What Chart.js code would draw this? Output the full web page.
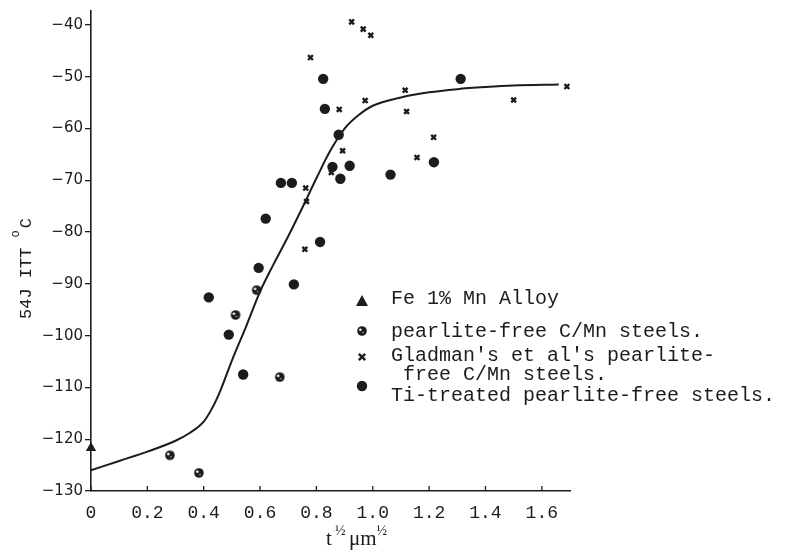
<!DOCTYPE html>
<html>
<head>
<meta charset="utf-8">
<script src="https://cdn.jsdelivr.net/npm/chart.js@4/dist/chart.umd.min.js"></script>
<style>
  body { margin: 0; background: #fff; }
  #chart { display: block; }
</style>
</head>
<body>
<canvas id="chart" width="785" height="551"></canvas>
<script>
// axis ticks
const xTicks = [0, 0.2, 0.4, 0.6, 0.8, 1.0, 1.2, 1.4, 1.6];
const xTickLabels = ['0', '0.2', '0.4', '0.6', '0.8', '1.0', '1.2', '1.4', '1.6'];
const yTicks = [-130, -120, -110, -100, -90, -80, -70, -60, -50, -40];
const yTickLabels = ['\u2212130', '\u2212120', '\u2212110', '\u2212100', '\u221290', '\u221280', '\u221270', '\u221260', '\u221250', '\u221240'];

// Fe 1% Mn alloy
const feX = [0];
const feY = [-121.7];

// pearlite-free C/Mn steels
const pearliteX = [0.28, 0.383, 0.513, 0.588, 0.67];
const pearliteY = [-123.1, -126.5, -96, -91.2, -108];

// Gladman et al
const gladmanX = [0.925, 0.966, 0.993, 0.779, 1.115, 0.973, 0.881, 1.12, 1.689, 1.5, 1.216, 0.893, 1.157, 0.853, 0.762, 0.765, 0.759];
const gladmanY = [-39.4, -40.8, -42, -46.3, -52.6, -54.6, -56.3, -56.7, -51.9, -54.5, -61.7, -64.3, -65.6, -68.5, -71.5, -74.1, -83.3];

// Ti-treated pearlite-free steels
const tiX = [0.824, 0.83, 0.879, 0.857, 0.885, 0.918, 0.674, 0.713, 0.62, 0.813, 0.595, 0.72, 0.418, 0.489, 0.54, 1.063, 1.217, 1.312];
const tiY = [-50.4, -56.2, -61.2, -67.4, -69.7, -67.2, -70.5, -70.5, -77.4, -81.9, -86.9, -90.1, -92.6, -99.8, -107.5, -68.9, -66.5, -50.4];

// fitted curve
const curveX = [0, 0.1, 0.2, 0.3, 0.35, 0.4, 0.43, 0.46, 0.5, 0.55, 0.6, 0.65, 0.7, 0.75, 0.8, 0.85, 0.9, 0.95, 1.0, 1.1, 1.2, 1.3, 1.4, 1.5, 1.66];
const curveY = [-126, -124.2, -122.4, -120.3, -118.8, -116.6, -114, -110.5, -104.8, -98.3, -91.5, -86, -80.8, -75.3, -69.6, -64.2, -60, -57.4, -55.6, -54, -53, -52.4, -52, -51.7, -51.5];

const legendLabels = [
    ['Fe 1% Mn Alloy'],
    ['pearlite-free C/Mn steels.'],
    ["Gladman's et al's pearlite-", ' free C/Mn steels.'],
    ['Ti-treated pearlite-free steels.']
];

const ink = '#1c1c1c';

function toPoints(xs, ys) {
    return xs.map((x, i) => ({ x: x, y: ys[i] }));
}

function makeDotted(r) {
    const c = document.createElement('canvas');
    const s = Math.ceil(r * 2 + 2);
    c.width = s;
    c.height = s;
    const g = c.getContext('2d');
    g.fillStyle = ink;
    g.beginPath();
    g.arc(s / 2, s / 2, r, 0, Math.PI * 2);
    g.fill();
    g.fillStyle = '#fff';
    g.beginPath();
    g.arc(s / 2 - 1.6, s / 2 - 1.3, 1.3, 0, Math.PI * 2);
    g.fill();
    g.beginPath();
    g.arc(s / 2 + 1, s / 2 + 1.6, 0.7, 0, Math.PI * 2);
    g.fill();
    return c;
}

const dotted = makeDotted(4.8);

// draws ticks inside on x, titles and the boxed-in legend
const extras = {
    id: 'extras',
    afterDraw(chart) {
        const ctx = chart.ctx;
        const xs = chart.scales.x;
        const area = chart.chartArea;
        ctx.save();
        ctx.strokeStyle = ink;
        ctx.fillStyle = ink;

        // x tick marks pointing up
        ctx.lineWidth = 1.3;
        xTicks.forEach(v => {
            const px = xs.getPixelForValue(v);
            ctx.beginPath();
            ctx.moveTo(px, area.bottom);
            ctx.lineTo(px, area.bottom - 5);
            ctx.stroke();
        });

        // x title: t^1/2 um^1/2
        ctx.textBaseline = 'alphabetic';
        ctx.textAlign = 'left';
        ctx.font = '21px "Liberation Serif"';
        ctx.fillText('t', 326, 545);
        ctx.font = '14px "Liberation Serif"';
        ctx.fillText('\u00bd', 335, 535);
        ctx.font = '21px "Liberation Serif"';
        ctx.fillText('\u03bcm', 349, 545);
        const mw = ctx.measureText('\u03bcm').width;
        ctx.font = '14px "Liberation Serif"';
        ctx.fillText('\u00bd', 349 + mw, 535);

        // y title
        ctx.save();
        ctx.translate(26, 319);
        ctx.rotate(-Math.PI / 2);
        ctx.textBaseline = 'middle';
        ctx.font = '17px "Liberation Mono"';
        ctx.fillText('54J ITT ', 0, 0);
        let w = ctx.measureText('54J ITT ').width;
        ctx.font = '12px "Liberation Mono"';
        ctx.fillText('o', w, -10);
        w += ctx.measureText('o').width + 2;
        ctx.font = '17px "Liberation Mono"';
        ctx.fillText('C', w, 0);
        ctx.restore();

        // legend
        const mx = 362;
        const markY = [301, 331, 357, 386];
        const textY = [[299], [332], [356, 375], [396]];
        // triangle
        ctx.beginPath();
        ctx.moveTo(mx, markY[0] - 6);
        ctx.lineTo(mx + 6, markY[0] + 5);
        ctx.lineTo(mx - 6, markY[0] + 5);
        ctx.closePath();
        ctx.fill();
        // dotted circle
        ctx.drawImage(dotted, mx - dotted.width / 2, markY[1] - dotted.height / 2);
        // cross
        ctx.lineWidth = 2.4;
        ctx.beginPath();
        ctx.moveTo(mx - 3.2, markY[2] - 3.2);
        ctx.lineTo(mx + 3.2, markY[2] + 3.2);
        ctx.moveTo(mx + 3.2, markY[2] - 3.2);
        ctx.lineTo(mx - 3.2, markY[2] + 3.2);
        ctx.stroke();
        // solid circle
        ctx.beginPath();
        ctx.arc(mx, markY[3], 5.2, 0, Math.PI * 2);
        ctx.fill();

        ctx.font = '20px "Liberation Mono"';
        ctx.textBaseline = 'middle';
        legendLabels.forEach((lines, i) => {
            lines.forEach((line, j) => {
                ctx.fillText(line, 391, textY[i][j]);
            });
        });
        ctx.restore();
    }
};

new Chart(document.getElementById('chart'), {
    type: 'scatter',
    data: {
        datasets: [
            {
                label: 'curve',
                data: toPoints(curveX, curveY),
                showLine: true,
                borderColor: ink,
                borderWidth: 2,
                pointRadius: 0,
                cubicInterpolationMode: 'monotone',
                clip: false
            },
            {
                label: 'Fe 1% Mn Alloy',
                data: toPoints(feX, feY),
                pointStyle: 'triangle',
                pointRadius: 6,
                backgroundColor: ink,
                borderColor: ink,
                borderWidth: 0,
                clip: false
            },
            {
                label: 'pearlite-free C/Mn steels.',
                data: toPoints(pearliteX, pearliteY),
                pointStyle: dotted,
                pointRadius: 5,
                clip: false
            },
            {
                label: "Gladman's et al's pearlite-free C/Mn steels.",
                data: toPoints(gladmanX, gladmanY),
                pointStyle: 'crossRot',
                pointRadius: 3.4,
                borderColor: ink,
                borderWidth: 2.4,
                clip: false
            },
            {
                label: 'Ti-treated pearlite-free steels.',
                data: toPoints(tiX, tiY),
                pointStyle: 'circle',
                pointRadius: 5.2,
                backgroundColor: ink,
                borderColor: ink,
                borderWidth: 0,
                clip: false
            }
        ]
    },
    options: {
        responsive: false,
        animation: false,
        layout: { padding: { top: 8, right: 215, left: 0, bottom: 0 } },
        plugins: {
            legend: { display: false },
            tooltip: { enabled: false }
        },
        scales: {
            x: {
                type: 'linear',
                min: 0,
                max: 1.7,
                afterBuildTicks: scale => { scale.ticks = xTicks.map(v => ({ value: v })); },
                afterFit: scale => { scale.height = 60; },
                grid: { display: true, drawOnChartArea: false, drawTicks: false },
                border: { display: true, color: ink, width: 1.6 },
                ticks: {
                    color: ink,
                    padding: 11,
                    maxRotation: 0,
                    font: { family: 'Liberation Mono', size: 18 },
                    callback: (v, i) => xTickLabels[i]
                }
            },
            y: {
                type: 'linear',
                min: -130,
                max: -37.3,
                afterBuildTicks: scale => { scale.ticks = yTicks.map(v => ({ value: v })); },
                afterFit: scale => { scale.width = 91; },
                grid: { display: true, drawOnChartArea: false, drawTicks: true, tickLength: 6, color: ink, lineWidth: 1.3 },
                border: { display: true, color: ink, width: 1.6 },
                ticks: {
                    color: ink,
                    padding: 2,
                    font: { family: 'DejaVu Sans', size: 15 },
                    callback: (v, i) => yTickLabels[i]
                }
            }
        }
    },
    plugins: [extras]
});
</script>
</body>
</html>
